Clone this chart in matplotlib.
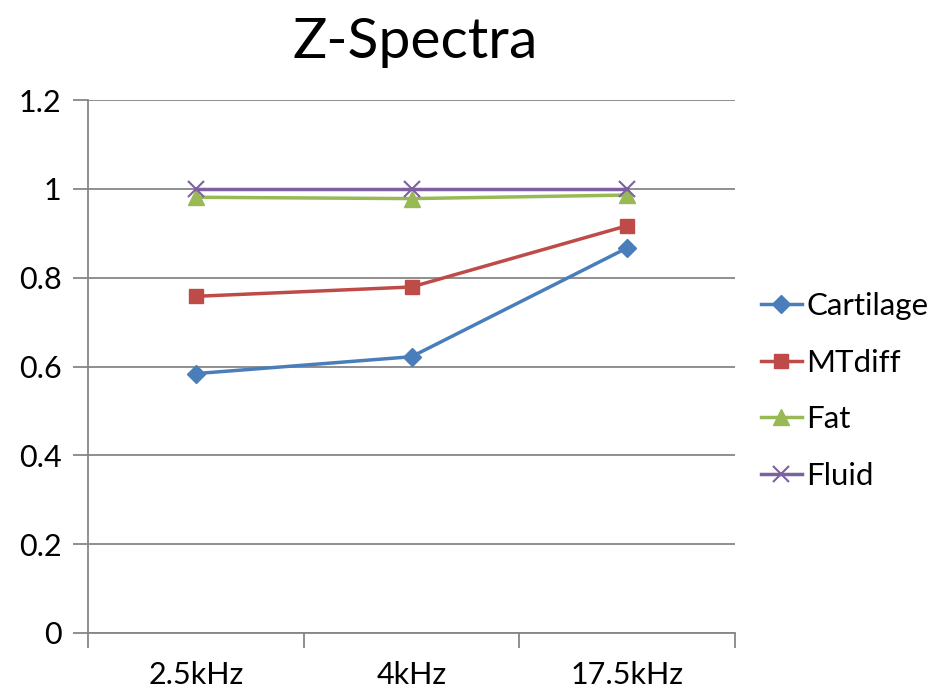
import matplotlib
matplotlib.use("Agg")
import matplotlib.pyplot as plt

categories = ["2.5kHz", "4kHz", "17.5kHz"]
cartilage = [0.584, 0.622, 0.867]
mtdiff = [0.758, 0.779, 0.917]
fat = [0.981, 0.978, 0.986]
fluid = [1.0, 1.0, 1.0]
y_ticks = [0, 0.2, 0.4, 0.6, 0.8, 1.0, 1.2]
y_labels = ["0", "0.2", "0.4", "0.6", "0.8", "1", "1.2"]

plt.rcParams['font.family'] = ['Lato', 'DejaVu Sans']

fig = plt.figure(figsize=(9.4, 6.93), dpi=100)
ax = fig.add_axes([88/940, 1-633/693, (735-88)/940, (633-100)/693])

x = list(range(len(categories)))
series = [
    ("Cartilage", cartilage, "#4A7EBB", "D", 9.5),
    ("MTdiff", mtdiff, "#BE4B48", "s", 10.5),
    ("Fat", fat, "#98B954", "^", 11.5),
    ("Fluid", fluid, "#7D60A0", "x", 12),
]
for name, vals, col, mk, ms in series:
    kw = dict(markeredgewidth=1.5) if mk == "x" else dict(markeredgecolor=col)
    ax.plot(x, vals, color=col, lw=2.5, marker=mk, markersize=ms,
            markerfacecolor=col, label=name, zorder=3, **kw)

ax.set_xlim(-0.5, 2.5)
ax.set_ylim(0, 1.2)
ax.set_yticks(y_ticks)
ax.set_yticklabels(y_labels)
ax.yaxis.grid(True, color="#868686", lw=1.3)
ax.set_axisbelow(True)
ax.set_xticks([-0.5, 0.5, 1.5, 2.5], minor=False)
ax.set_xticklabels([])
ax.set_xticks(x, minor=True)
ax.set_xticklabels(categories, minor=True)
ax.tick_params(axis="x", which="minor", length=0, pad=20, labelsize=22)
ax.tick_params(axis="x", which="major", length=11, width=1.3, color="#868686", direction="out")
ax.tick_params(axis="y", length=11, width=1.3, color="#868686", direction="out", labelsize=22, pad=8)
for s in ["top", "right"]:
    ax.spines[s].set_visible(False)
for s in ["left", "bottom"]:
    ax.spines[s].set_color("#868686")
    ax.spines[s].set_linewidth(1.3)

fig.text(415/940, 1-42/693, "Z-Spectra", ha="center", va="center", fontsize=41)

ax.legend(loc="center left", bbox_to_anchor=(761/940, 1-391/693), bbox_transform=fig.transFigure,
          frameon=False, fontsize=22.5, handlelength=1.3, handletextpad=0.15, labelspacing=0.91,
          borderaxespad=0, borderpad=0)

fig.savefig("out.png", dpi=100, facecolor="white")
